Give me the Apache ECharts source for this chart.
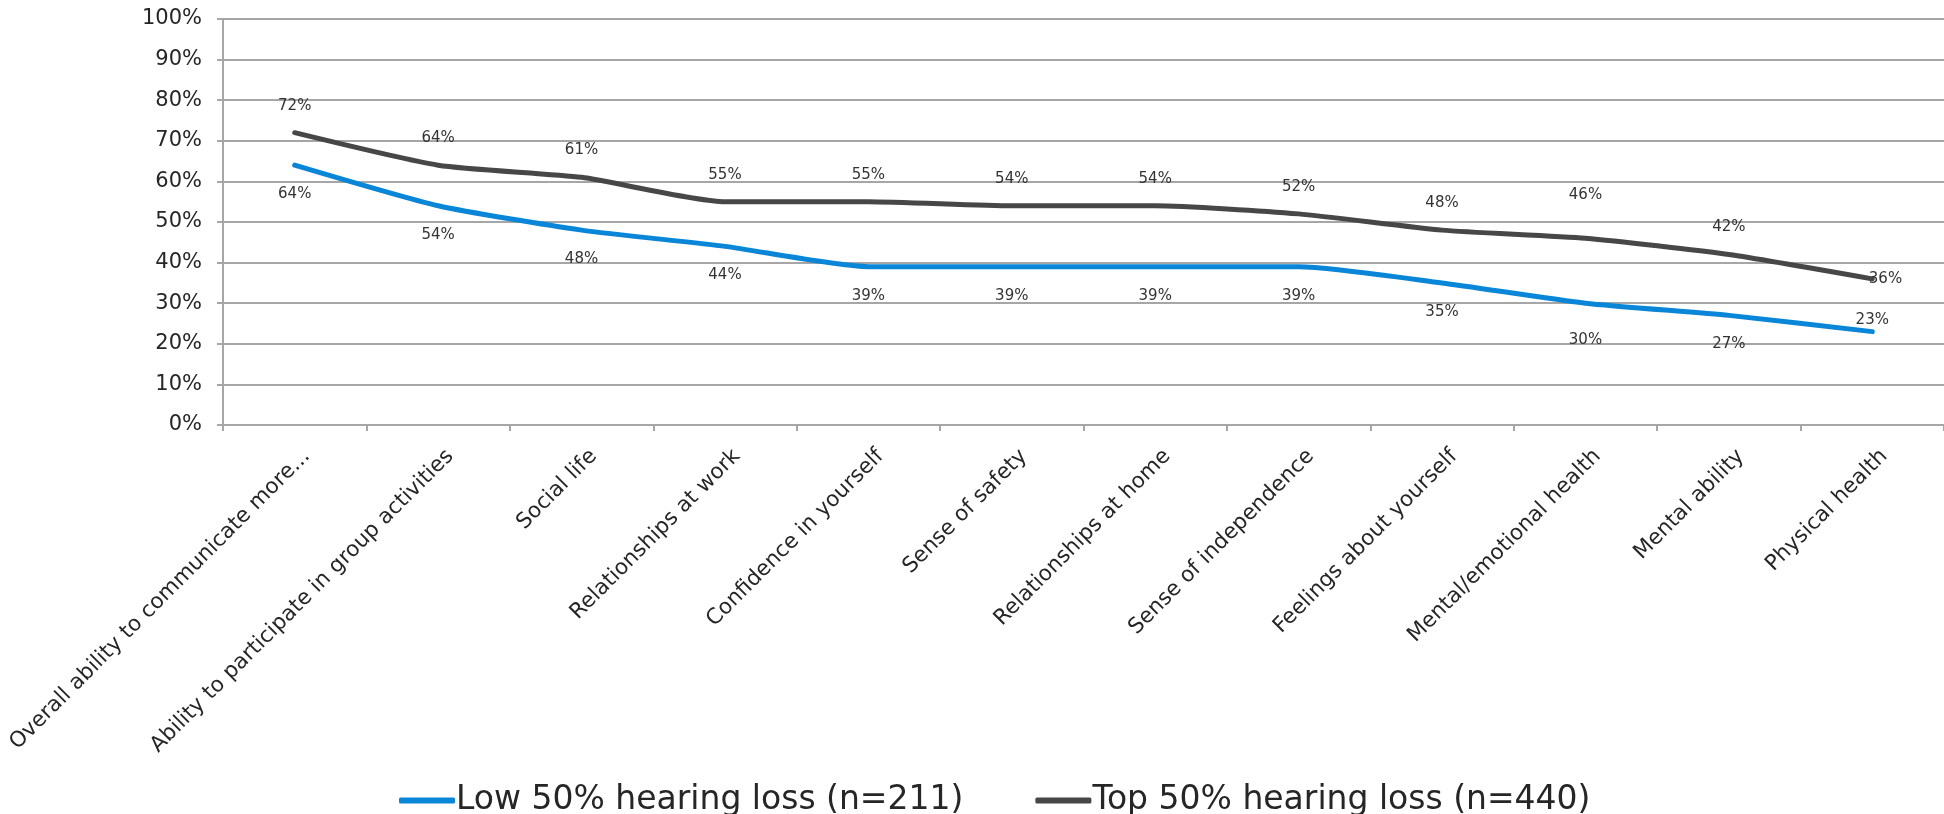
<!DOCTYPE html>
<html>
<head>
<meta charset="utf-8">
<script src="https://cdn.jsdelivr.net/npm/echarts@6/dist/echarts.min.js"></script>
<style>
html,body{margin:0;padding:0;background:#fff;}
#chart{width:1944px;height:814px;}
</style>
</head>
<body>
<div id="chart"></div>
<script>
var categories = [
  "Overall ability to communicate more...",
  "Ability to participate in group activities",
  "Social life",
  "Relationships at work",
  "Confidence in yourself",
  "Sense of safety",
  "Relationships at home",
  "Sense of independence",
  "Feelings about yourself",
  "Mental/emotional health",
  "Mental ability",
  "Physical health"
];
var lowValues = [64, 54, 48, 44, 39, 39, 39, 39, 35, 30, 27, 23];
var topValues = [72, 64, 61, 55, 55, 54, 54, 52, 48, 46, 42, 36];
var seriesNames = ["Low 50% hearing loss (n=211)", "Top 50% hearing loss (n=440)"];
var yTicks = [0, 10, 20, 30, 40, 50, 60, 70, 80, 90, 100];

var FONT = "DejaVu Sans";

function buildData(vals, isTop) {
  return vals.map(function (v, i) {
    var item = { value: v };
    var last = i === vals.length - 1;
    if (isTop) {
      if (last) item.label = { position: 'right', distance: -4 };
      else if (i === 9) item.label = { distance: 35 };
    } else {
      if (last) item.label = { position: 'top', distance: 4 };
      else if (i === 9) item.label = { distance: 29 };
    }
    return item;
  });
}

var chart = echarts.init(document.getElementById('chart'), null, { renderer: 'canvas' });
chart.setOption({
  animation: false,
  backgroundColor: '#ffffff',
  textStyle: { fontFamily: FONT },
  grid: { left: 223, right: -16, top: 19, bottom: 389, containLabel: false },
  legend: {
    left: 394,
    top: 779,
    itemWidth: 56,
    itemHeight: 6,
    itemGap: 72,
    textStyle: { fontFamily: FONT, fontSize: 33, color: '#262626', padding: [0, 0, 0, -4] },
    icon: 'roundRect',
    data: seriesNames
  },
  xAxis: {
    type: 'category',
    data: categories,
    boundaryGap: true,
    axisLine: { lineStyle: { color: '#A6A6A6', width: 2 } },
    axisTick: { show: true, length: 6, lineStyle: { color: '#A6A6A6', width: 2 }, alignWithLabel: false },
    axisLabel: { interval: 0, rotate: 45, margin: 16, verticalAlign: 'top', padding: [6, 0, 0, 0], fontFamily: FONT, fontSize: 21.5, color: '#262626' },
    splitLine: { show: false }
  },
  yAxis: {
    type: 'value',
    min: yTicks[0],
    max: yTicks[yTicks.length - 1],
    interval: 10,
    axisLine: { show: true, lineStyle: { color: '#A6A6A6', width: 2 } },
    axisTick: { show: true, length: 6, lineStyle: { color: '#A6A6A6', width: 2 } },
    axisLabel: { margin: 21, fontFamily: FONT, fontSize: 21, color: '#262626', formatter: '{value}%' },
    splitLine: { show: true, lineStyle: { color: '#A6A6A6', width: 2 } }
  },
  series: [
    {
      name: seriesNames[0],
      type: 'line',
      data: buildData(lowValues, false),
      smooth: 0.2,
      symbol: 'circle',
      symbolSize: 1,
      lineStyle: { color: '#0A86D8', width: 5, cap: 'round' },
      itemStyle: { color: '#0A86D8' },
      label: { show: true, position: 'bottom', distance: 21, fontFamily: FONT, fontSize: 15, color: '#333333', formatter: '{c}%' },
      z: 3
    },
    {
      name: seriesNames[1],
      type: 'line',
      data: buildData(topValues, true),
      smooth: 0.2,
      symbol: 'circle',
      symbolSize: 1,
      lineStyle: { color: '#474747', width: 5, cap: 'round' },
      itemStyle: { color: '#474747' },
      label: { show: true, position: 'top', distance: 19, fontFamily: FONT, fontSize: 15, color: '#333333', formatter: '{c}%' },
      z: 4
    }
  ]
});
</script>
</body>
</html>
